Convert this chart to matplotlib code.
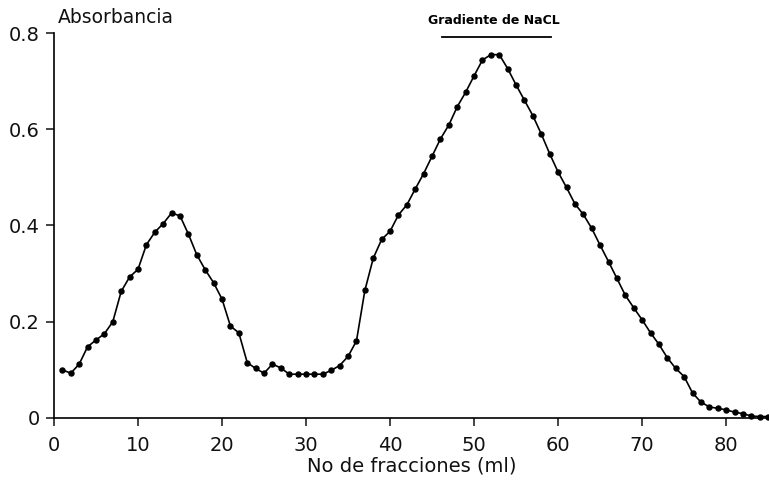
import numpy as np
import matplotlib
matplotlib.use("Agg")
import matplotlib.pyplot as plt

# fraccion number and absorbance
fracciones = np.arange(1, 86)
absorbancia = [
    0.100, 0.093, 0.112, 0.148, 0.162, 0.175, 0.200, 0.263, 0.293, 0.309,
    0.360, 0.386, 0.404, 0.426, 0.420, 0.382, 0.339, 0.308, 0.281, 0.247,
    0.191, 0.177, 0.115, 0.103, 0.093, 0.112, 0.104, 0.091, 0.091, 0.091,
    0.091, 0.091, 0.099, 0.109, 0.128, 0.160, 0.265, 0.332, 0.371, 0.388,
    0.422, 0.443, 0.476, 0.508, 0.544, 0.580, 0.609, 0.647, 0.677, 0.711,
    0.744, 0.755, 0.755, 0.726, 0.692, 0.660, 0.628, 0.590, 0.549, 0.511,
    0.479, 0.445, 0.423, 0.394, 0.359, 0.325, 0.290, 0.255, 0.229, 0.204,
    0.177, 0.153, 0.125, 0.103, 0.086, 0.052, 0.033, 0.023, 0.020, 0.017,
    0.012, 0.009, 0.004, 0.003, 0.003,
]

x_ticks = [0, 10, 20, 30, 40, 50, 60, 70, 80]
y_ticks = [0, 0.2, 0.4, 0.6, 0.8]
y_labels = ["0", "0.2", "0.4", "0.6", "0.8"]

# NaCl gradient bar (start, end fraction)
gradiente = (46.2, 59.2)

plt.rcParams['font.family'] = ['DejaVu Sans']

fig = plt.figure(figsize=(7.69, 4.84), dpi=100)
ax = fig.add_axes([0.0702, 0.1364, 0.9298, 0.7954])

ax.plot(fracciones, absorbancia, color='black', lw=1.2,
        marker='o', markersize=3.6, clip_on=False)

ax.set_xlim(0, 85.1)
ax.set_ylim(0, 0.8)
ax.set_xticks(x_ticks)
ax.set_yticks(y_ticks)
ax.set_yticklabels(y_labels)

for side in ['top', 'right']:
    ax.spines[side].set_visible(False)
for side in ['left', 'bottom']:
    ax.spines[side].set_linewidth(1.2)

ax.tick_params(axis='both', direction='out', length=6, width=1.1,
               labelsize=14, colors='#111111')
ax.tick_params(axis='x', pad=7)
ax.tick_params(axis='y', pad=4)

ax.set_xlabel("No de fracciones (ml)", fontsize=14, labelpad=1, color='#111111')
ax.text(0.005, 1.025, "Absorbancia", transform=ax.transAxes,
        fontsize=13.5, ha='left', va='baseline', color='#111111')

# gradient annotation
ax.plot(gradiente, [0.792, 0.792], color='black', lw=1.3, clip_on=False)
ax.text(sum(gradiente) / 2 - 0.4, 0.812, "Gradiente de NaCL", fontsize=9,
        ha='center', va='bottom', fontweight='semibold')

fig.savefig("out.png", dpi=100)
